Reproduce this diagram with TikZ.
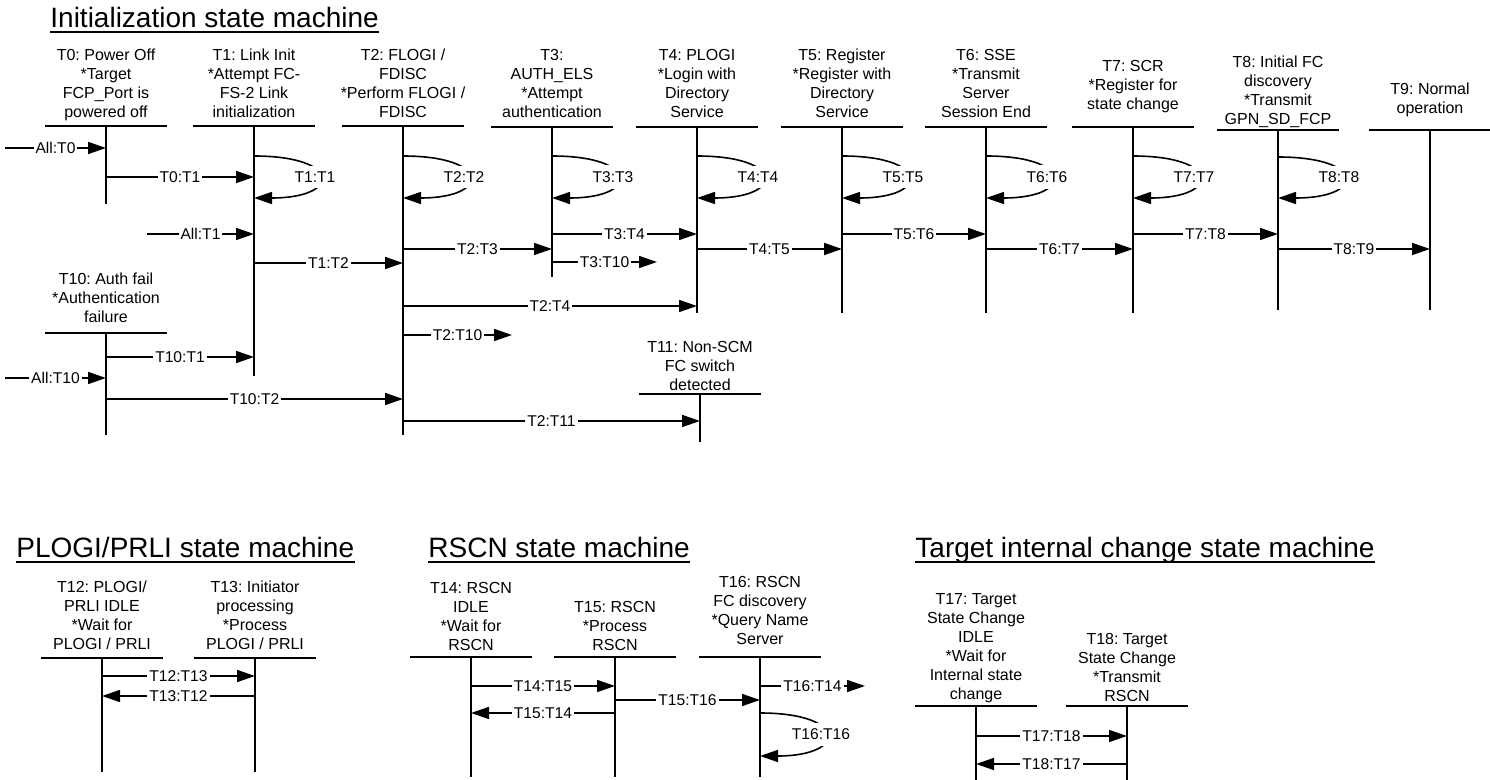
\documentclass[tikz,border=0pt]{standalone}
\usepackage{fontspec}
\setmainfont{Liberation Sans}
\usetikzlibrary{arrows.meta,calc}
\frenchspacing
\newcommand\hdf{\fontsize{8pt}{9.5pt}\selectfont}
\newcommand\lbf{\fontsize{7.8pt}{9pt}\selectfont}
\newcommand\ttf{\fontsize{14pt}{16pt}\selectfont}
% lifeline: name, x, header y, bottom y, text top y, text
\newcommand\mkline[6]{%
  \coordinate (#1) at (#2,#3);
  \coordinate (#1b) at (#2,#4);
  \node[hdr] (h#1) at (#2,#5) {#6};
  \draw[hl] ($(#1)+(-61,0)$) -- ($(#1)+(61,0)$);
  \draw[ln] (#1) -- (#1b);
}
% horizontal arrow: from, to, y, label, label name
\newcommand\harr[5]{%
  \draw[arr] (#1 |- 0,#3) -- node[lbl] (#5) {#4} (#2 |- 0,#3);
}
% self loop: lifeline, y1, y2, label, label name
\newcommand\sloop[5]{%
  \draw[arr] (#1 |- 0,#2) .. controls ($(#1 |- 0,#2)+(88,0)$) and ($(#1 |- 0,#3)+(88,0)$) .. (#1 |- 0,#3)
    node[lplbl,pos=0.5,xshift=-2.5pt] (#5) {#4};
}
\newcommand\mktitle[4]{%
  \node[ttl] (#1) at (#2,#3) {#4};
  \draw[line width=1pt] ([yshift=-1.9pt]#1.base west) -- ([yshift=-1.9pt]#1.base east);
}
\begin{document}
\begin{tikzpicture}[x=0.5pt,y=-0.5pt,
  ln/.style={line width=0.8pt},
  hl/.style={line width=0.9pt},
  arr/.style={ln,-{Triangle[length=9pt,width=6pt]}},
  lbl/.style={fill=white,inner xsep=1pt,inner ysep=1pt,font=\lbf},
  lplbl/.style={lbl,inner ysep=3pt},
  hdr/.style={align=center,font=\hdf,inner sep=0pt,anchor=north},
  ttl/.style={font=\ttf,inner sep=0pt,anchor=base west}]
\useasboundingbox (0,0) rectangle (1490,780);

% ---------- titles
\mktitle{t1}{50}{28}{Initialization state machine}
\mktitle{t2}{16}{558}{PLOGI/PRLI state machine}
\mktitle{t3}{428}{558}{RSCN state machine}
\mktitle{t4}{915}{558}{Target internal change state machine}

% ---------- initialization state machine
\mkline{T0}{106}{126}{204}{49}{T0: Power Off\\{}*Target\\FCP\_Port is\\powered off}
\mkline{T1}{254}{126}{376}{49}{T1: Link Init\\{}*Attempt FC-\\FS-2 Link\\initialization}
\mkline{T2}{403}{126}{435}{49}{T2: FLOGI /\\FDISC\\{}*Perform FLOGI /\\FDISC}
\mkline{T3}{552}{127}{277}{49}{T3:\\AUTH\_ELS\\{}*Attempt\\authentication}
\mkline{T4}{697}{127}{313}{49}{T4: PLOGI\\{}*Login with\\Directory\\Service}
\mkline{T5}{842}{127}{313}{49}{T5: Register\\{}*Register with\\Directory\\Service}
\mkline{T6}{986}{127}{313}{49}{T6: SSE\\{}*Transmit\\Server\\Session End}
\mkline{T7}{1133}{127}{313}{60}{T7: SCR\\{}*Register for\\state change}
\mkline{T8}{1278}{130}{310}{56}{T8: Initial FC\\discovery\\{}*Transmit\\GPN\_SD\_FCP}
\mkline{T9}{1430}{130}{310}{83}{T9: Normal\\operation}
\mkline{T10}{106}{333}{435}{273}{T10: Auth fail\\{}*Authentication\\failure}
\mkline{T11}{700}{394}{442}{341}{T11: Non-SCM\\FC switch\\detected}

\coordinate (a0) at (5,0);
\coordinate (a1) at (147,0);
\coordinate (e310) at (657,0);
\coordinate (e210) at (512,0);

\harr{a0}{T0}{148}{All:T0}{l1}
\harr{T0}{T1}{177}{T0:T1}{l2}
\harr{a1}{T1}{234}{All:T1}{l3}
\harr{T1}{T2}{263}{T1:T2}{l4}
\harr{T2}{T3}{249}{T2:T3}{l5}
\harr{T3}{T4}{234}{T3:T4}{l6}
\harr{T3}{e310}{262}{T3:T10}{l7}
\harr{T4}{T5}{249}{T4:T5}{l8}
\harr{T5}{T6}{234}{T5:T6}{l9}
\harr{T6}{T7}{249}{T6:T7}{l10}
\harr{T7}{T8}{234}{T7:T8}{l11}
\harr{T8}{T9}{249}{T8:T9}{l12}
\harr{T2}{T4}{306}{T2:T4}{l13}
\harr{T2}{e210}{335}{T2:T10}{l14}
\harr{T10}{T1}{357}{T10:T1}{l15}
\harr{a0}{T10}{378}{All:T10}{l16}
\harr{T10}{T2}{399}{T10:T2}{l17}
\harr{T2}{T11}{421}{T2:T11}{l18}

\sloop{T1}{156}{198}{T1:T1}{s1}
\sloop{T2}{156}{198}{T2:T2}{s2}
\sloop{T3}{156}{198}{T3:T3}{s3}
\sloop{T4}{156}{198}{T4:T4}{s4}
\sloop{T5}{156}{198}{T5:T5}{s5}
\sloop{T6}{156}{198}{T6:T6}{s6}
\sloop{T7}{156}{198}{T7:T7}{s7}
\sloop{T8}{157}{198}{T8:T8}{s8}

% ---------- PLOGI/PRLI state machine
\mkline{T12}{102}{658}{772}{581}{T12: PLOGI/\\PRLI IDLE\\{}*Wait for\\PLOGI / PRLI}
\mkline{T13}{255}{658}{772}{581}{T13: Initiator\\processing\\{}*Process\\PLOGI / PRLI}
\harr{T12}{T13}{676}{T12:T13}{l19}
\harr{T13}{T12}{696}{T13:T12}{l20}

% ---------- RSCN state machine
\mkline{T14}{471}{657}{777}{582}{T14: RSCN\\IDLE\\{}*Wait for\\RSCN}
\mkline{T15}{615}{657}{777}{601}{T15: RSCN\\{}*Process\\RSCN}
\mkline{T16}{760}{657}{777}{576}{T16: RSCN\\FC discovery\\{}*Query Name\\Server}
\coordinate (e1614) at (865,0);
\harr{T14}{T15}{686}{T14:T15}{l21}
\harr{T15}{T16}{700}{T15:T16}{l22}
\harr{T15}{T14}{713}{T15:T14}{l23}
\harr{T16}{e1614}{686}{T16:T14}{l24}
\sloop{T16}{713}{756}{T16:T16}{s9}

% ---------- Target internal change state machine
\mkline{T17}{976}{706}{780}{593}{T17: Target\\State Change\\IDLE\\{}*Wait for\\Internal state\\change}
\mkline{T18}{1127}{706}{780}{633}{T18: Target\\State Change\\{}*Transmit\\RSCN}
\harr{T17}{T18}{736}{T17:T18}{l25}
\harr{T18}{T17}{764}{T18:T17}{l26}
\end{tikzpicture}
\end{document}
